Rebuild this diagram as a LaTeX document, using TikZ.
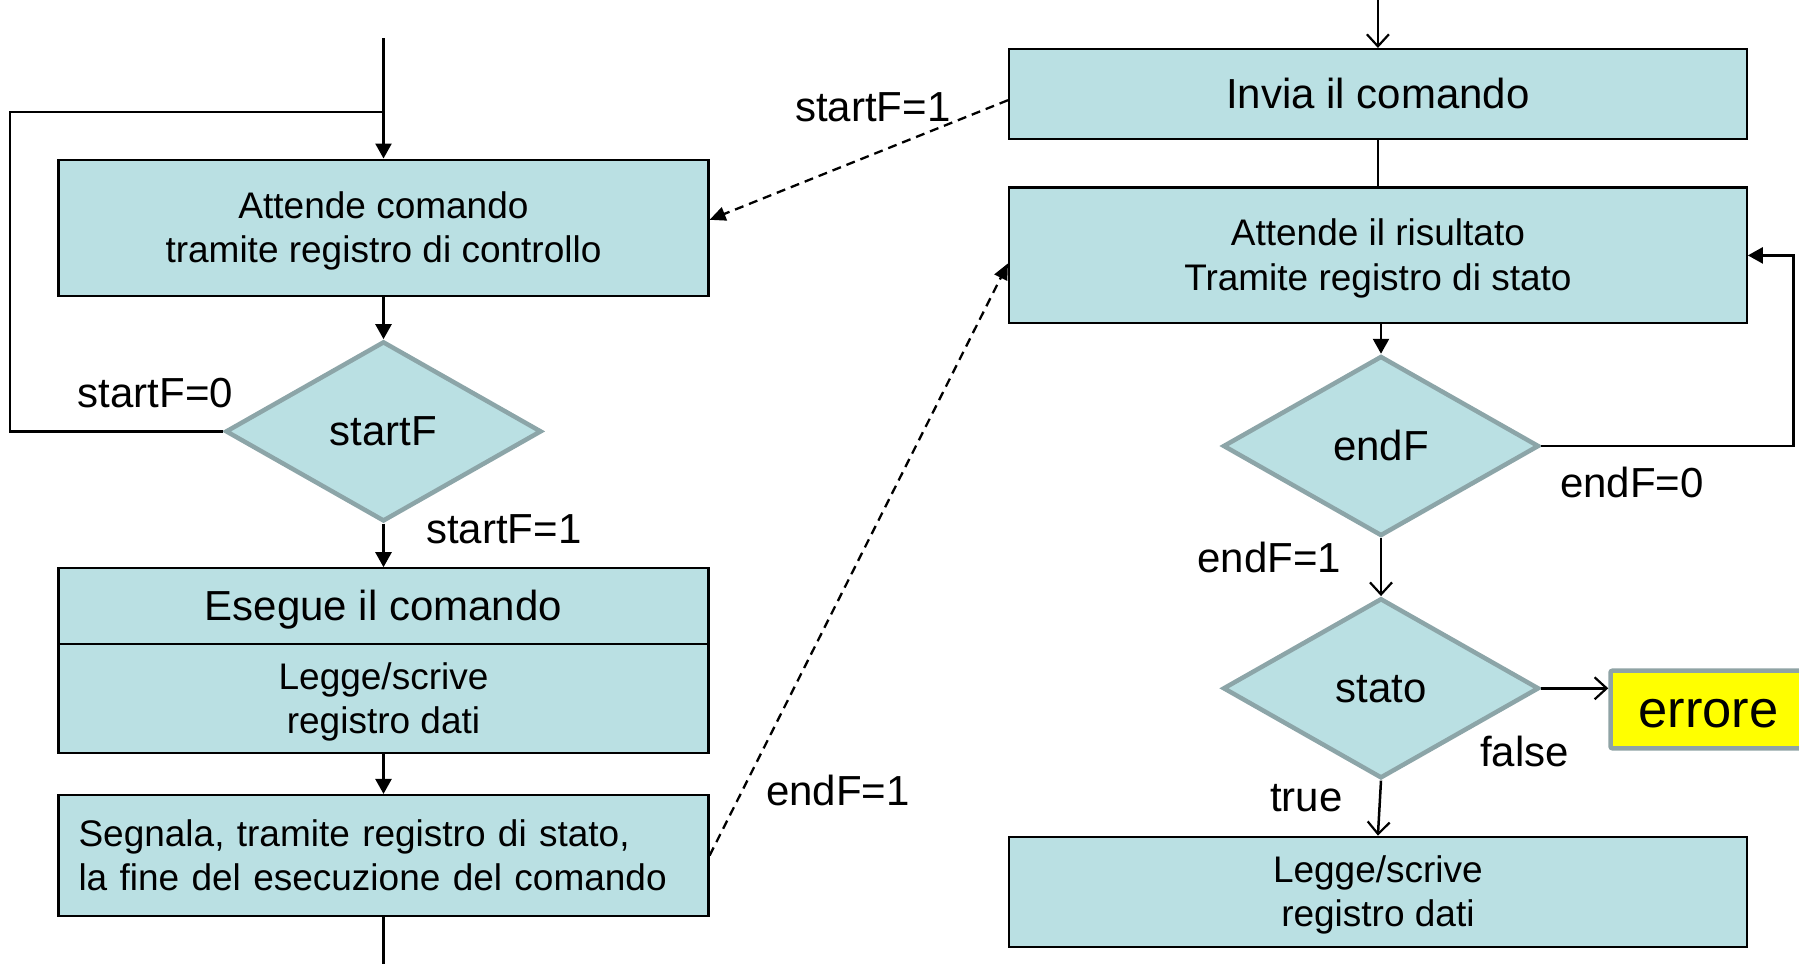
\documentclass[tikz,border=0pt]{standalone}
\usepackage{fontspec}
\setmainfont{Liberation Sans}
\usetikzlibrary{shapes.geometric,arrows.meta,calc}
\definecolor{boxfill}{RGB}{186,224,227}
\definecolor{diagray}{RGB}{140,165,168}
\definecolor{errgray}{RGB}{143,163,165}
\definecolor{erryellow}{RGB}{255,255,0}
\newcommand{\mystr}{\rule[-0.212em]{0pt}{1.117em}}
\tikzset{
  x=1pt,y=1pt,
  fsmall/.style={font=\fontsize{37pt}{44.5pt}\selectfont},
  flarge/.style={font=\fontsize{42pt}{47pt}\selectfont},
  procbox/.style={draw=black,line width=2.2pt,fill=boxfill,rectangle,inner sep=0pt,align=center},
  decbox/.style={diamond,draw=diagray,line width=4.5pt,fill=boxfill,inner sep=0pt,
    minimum width=316pt,minimum height=180pt,flarge},
  lbl/.style={anchor=base west,inner sep=0pt,flarge},
  conn/.style={draw=black,line width=2.5pt},
  filledtip/.style={-{Triangle[length=15pt,width=16pt]}},
  opentip/.style={-{Straight Barb[length=12pt,width=22pt,line width=2.2pt]}},
  dashconn/.style={draw=black,line width=2.3pt,dash pattern=on 9pt off 6pt,-{Triangle[length=16pt,width=14pt]}}
}
\begin{document}
\begin{tikzpicture}
\path[use as bounding box,clip] (0,0) rectangle (1799,-964);
% ---------- left column ----------
\coordinate (ltop) at (383.5,-38);
\coordinate (lbot) at (383.5,-964);
\coordinate (lsplit) at (383.5,-112);
\coordinate (lloop) at (10,-112);
\node[procbox,fsmall,minimum width=650pt,minimum height=136.4pt] (att1) at (383.5,-227.8)
  {\mystr Attende comando\\\mystr tramite registro di controllo};
\node[decbox] (dstart) at (383.5,-431.4) {\mystr startF};
\node[procbox,flarge,minimum width=650pt,minimum height=75.7pt] (ese) at (383.5,-606.15) {\mystr Esegue il comando};
\node[procbox,fsmall,minimum width=650pt,minimum height=109.3pt] (rw1) at (383.5,-698.65) {\mystr Legge/scrive\\\mystr registro dati};
\node[procbox,fsmall,minimum height=121pt,text width=610pt,inner xsep=20pt,align=left] (seg) at (383.5,-855.5)
  {\mystr Segnala, tramite registro di stato,\\\mystr la fine del esecuzione del comando};
\draw[conn,filledtip] (ltop) -- (att1.north);
\draw[conn] (lsplit) -- (lloop) |- (dstart.west);
\draw[conn,filledtip] (att1.south) -- (dstart.north);
\draw[conn,filledtip] (dstart.south) -- (ese.north);
\draw[conn,filledtip] (rw1.south) -- (seg.north);
\draw[conn] (seg.south) -- (lbot);
\node[lbl] (l0) at (77.5,-407) {startF=0};
\node[lbl] (l1) at (426,-543) {startF=1};
% ---------- right column ----------
\coordinate (rtop) at (1377.9,0);
\coordinate (rloop) at (1793.5,-446);
\node[procbox,flarge,minimum width=737.7pt,minimum height=90.3pt] (inv) at (1377.9,-94.2) {\mystr Invia il comando};
\node[procbox,fsmall,minimum width=737.7pt,minimum height=135.7pt] (att2) at (1377.9,-255.4)
  {\mystr Attende il risultato\\\mystr Tramite registro di stato};
\node[decbox] (dend) at (1381,-446) {\mystr endF};
\node[decbox] (dstato) at (1381,-688.3) {\mystr stato};
\node[draw=errgray,line width=4.5pt,fill=erryellow,rounded corners=2pt,inner sep=0pt,
  minimum width=196pt,minimum height=77.6pt,font=\fontsize{52.5pt}{58pt}\selectfont] (err) at (1708.5,-709.5) {\mystr errore};
\node[procbox,fsmall,minimum width=737.7pt,minimum height=110pt] (rw2) at (1377.9,-891.7) {\mystr Legge/scrive\\\mystr registro dati};
\draw[conn,opentip] (rtop) -- (inv.north);
\draw[conn] (inv.south) -- (inv.south |- att2.north);
\draw[conn,filledtip] (dend.north |- att2.south) -- (dend.north);
\draw[conn,filledtip] (dend.east) -- (rloop) |- (att2.east);
\draw[conn,opentip] (dend.south) -- (dstato.north);
\draw[conn,opentip] (dstato.east) -- (dstato.east -| err.west);
\draw[conn,opentip] (dstato.south) -- (rw2.north);
\node[lbl] (r0) at (1560,-497) {endF=0};
\node[lbl] (r1) at (1197.4,-572.7) {endF=1};
\node[lbl] (rf) at (1479.8,-766.7) {false};
\node[lbl] (rt) at (1270,-811.7) {true};
% ---------- dashed messages ----------
\draw[dashconn] ([yshift=-6pt]inv.west) -- ([yshift=8pt]att1.east);
\draw[dashconn] (seg.east) -- ([yshift=-8pt]att2.west);
\node[lbl] (ls) at (795,-121) {startF=1};
\node[lbl] (le) at (766,-805) {endF=1};
\end{tikzpicture}
\end{document}
